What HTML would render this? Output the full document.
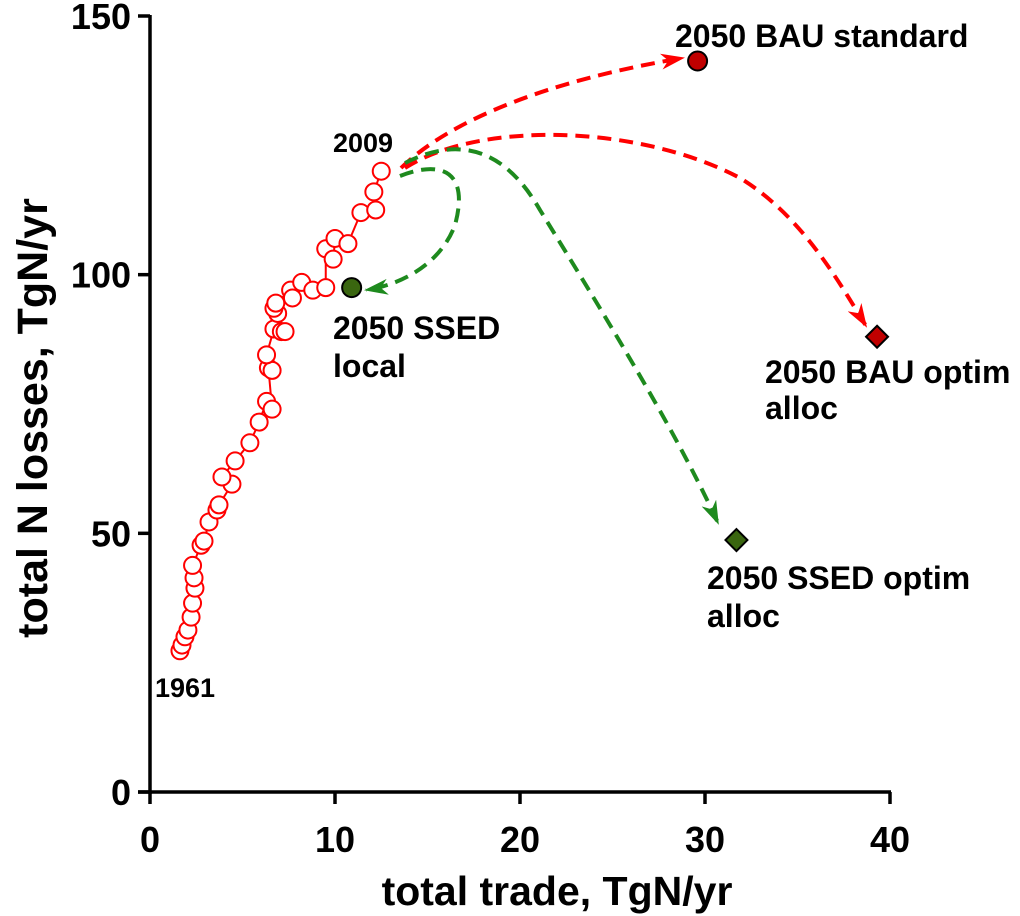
<!DOCTYPE html>
<html><head><meta charset="utf-8"><style>
html,body{margin:0;padding:0;background:#fff;}
svg{display:block;font-family:"Liberation Sans",Arial,sans-serif;font-weight:bold;}
</style></head><body>
<svg id="chart" width="1020" height="916" viewBox="0 0 1020 916">
<defs>
<marker id="ar" markerWidth="24" markerHeight="16" refX="22" refY="8" orient="auto" markerUnits="userSpaceOnUse"><path d="M0,0 L24,8 L0,16 L7,8 Z" fill="#ff0000"/></marker>
<marker id="ag" markerWidth="24" markerHeight="16" refX="22" refY="8" orient="auto" markerUnits="userSpaceOnUse"><path d="M0,0 L24,8 L0,16 L7,8 Z" fill="#1e8a1e"/></marker>
</defs>
<g id="axes"></g>
<g id="arrows">
<path d="M401,168 C450,120 550,80 683,58" fill="none" stroke="#ff0000" stroke-width="4" stroke-dasharray="14,8" marker-end="url(#ar)"/>
<path d="M405,168 C480,120 640,125 740,178 C800,215 835,275 866,326" fill="none" stroke="#ff0000" stroke-width="4" stroke-dasharray="14,8" marker-end="url(#ar)"/>
<path d="M405,163 C450,140 500,140 540,210 C620,340 680,440 718,523" fill="none" stroke="#1e8a1e" stroke-width="4" stroke-dasharray="14,8" marker-end="url(#ag)"/>
<path d="M400,176 C440,160 470,170 455,225 C440,265 400,285 366,290" fill="none" stroke="#1e8a1e" stroke-width="4" stroke-dasharray="14,8" marker-end="url(#ag)"/>
</g>
<g id="hist"></g>
<g id="scen"></g>
<g>
<text x="155" y="697" font-size="27">1961</text>
<text x="333" y="152" font-size="27">2009</text>
<text x="675" y="47" font-size="32">2050 BAU standard</text>
<text x="765" y="383" font-size="32">2050 BAU optim</text>
<text x="765" y="419" font-size="32">alloc</text>
<text x="333" y="339" font-size="32">2050 SSED</text>
<text x="333" y="377" font-size="32">local</text>
<text x="707" y="589" font-size="32">2050 SSED optim</text>
<text x="707" y="627" font-size="32">alloc</text>
</g>
<text x="557" y="905" font-size="41" text-anchor="middle">total trade, TgN/yr</text>
<text transform="translate(47,418) rotate(-90)" font-size="43" text-anchor="middle">total N losses, TgN/yr</text>
</svg>
<script>
const histX = [1.62,1.73,1.89,2.05,2.22,2.3,2.43,2.38,2.3,2.76,2.92,3.19,3.62,3.73,4.43,3.89,4.6,5.4,5.9,6.3,6.6,6.4,6.6,6.3,6.7,7.1,7.3,6.9,6.7,6.8,7.6,7.7,8.2,8.8,9.5,9.5,9.9,10.0,10.7,11.4,12.2,12.1,12.5];
const histY = [27.3,28.4,30,31.3,33.8,36.5,39.4,41.4,43.8,47.7,48.5,52.2,54.5,55.5,59.5,60.9,64,67.5,71.5,75.5,74,82,81.5,84.5,89.5,89,89,92.5,93.5,94.5,97,95.5,98.5,97,97.5,105,103,107,106,112,112.5,116,120];
const scenNames = ["bau-standard","bau-optim","ssed-local","ssed-optim"];
const scenX = [29.6,39.3,10.9,31.7];
const scenY = [141.3,88.0,97.5,48.7];
const scenShape = ["circle","diamond","circle","diamond"];
const scenColor = ["#c00000","#c00000","#3a6610","#3a6610"];
const xTicks = [0,10,20,30,40];
const yTicks = [0,50,100,150];
const NS="http://www.w3.org/2000/svg";
const sx = v => 150 + v*18.5;
const sy = v => 792 - v*(776/150);
function mk(tag, attrs, parent){const e=document.createElementNS(NS,tag);for(const k in attrs)e.setAttribute(k,attrs[k]);parent.appendChild(e);return e;}
const axes=document.getElementById('axes');
let e=mk('line',{x1:150,y1:sy(150)-1,x2:150,y2:794,stroke:'#000','stroke-width':3.5},axes);


e=mk('line',{x1:138,y1:792,x2:sx(40)+1,y2:792,stroke:'#000','stroke-width':3.5},axes);


xTicks.forEach(t=>{
  const l=mk('line',{x1:sx(t),y1:792,x2:sx(t),y2:804,stroke:'#000','stroke-width':3.5},axes);
  
  
  const tx=mk('text',{x:sx(t),y:852,'font-size':36,'text-anchor':'middle'},axes);
  tx.textContent=t;
  
  
});
yTicks.forEach(t=>{
  const l=mk('line',{x1:138,y1:sy(t),x2:150,y2:sy(t),stroke:'#000','stroke-width':3.5},axes);
  
  
  const tx=mk('text',{x:131,y:sy(t)+13,'font-size':36,'text-anchor':'end'},axes);
  tx.textContent=t;
  
  
});
const hist=document.getElementById('hist');
const pts=histX.map((x,i)=>sx(x)+','+sy(histY[i])).join(' ');
e=mk('polyline',{points:pts,fill:'none',stroke:'#ff0000','stroke-width':2},hist);


histX.forEach((x,i)=>{
  const c=mk('circle',{cx:sx(x),cy:sy(histY[i]),r:8.5,fill:'#fff',stroke:'#ff0000','stroke-width':2},hist);
  
  
});
const scen=document.getElementById('scen');
scenX.forEach((x,i)=>{
  const cx=sx(x),cy=sy(scenY[i]);let m;
  if(scenShape[i]==='circle') m=mk('circle',{cx:cx,cy:cy,r:9.5,fill:scenColor[i],stroke:'#000','stroke-width':2},scen);
  else m=mk('path',{d:`M${cx},${cy-11} L${cx+11},${cy} L${cx},${cy+11} L${cx-11},${cy} Z`,fill:scenColor[i],stroke:'#000','stroke-width':2},scen);
  
  
});
</script>
</body></html>
